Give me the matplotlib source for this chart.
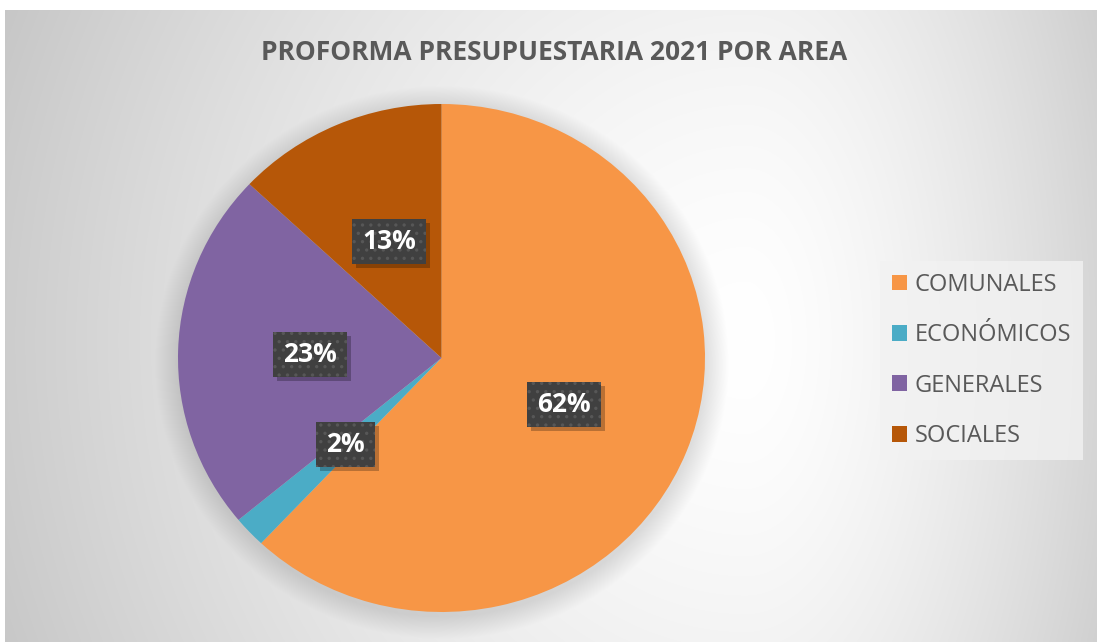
import matplotlib
matplotlib.use('Agg')
import matplotlib.pyplot as plt
import numpy as np
from matplotlib.patches import Rectangle

titulo = 'PROFORMA PRESUPUESTARIA 2021 POR AREA'
categorias = ['COMUNALES', 'ECONÓMICOS', 'GENERALES', 'SOCIALES']
porcentajes = [62, 2, 23, 13]
colores = ['#F79646', '#4BACC6', '#8064A2', '#B65708']

W, H = 1097, 642
fig = plt.figure(figsize=(W / 100, H / 100), dpi=100)
fig.patch.set_facecolor('white')
plt.rcParams['hatch.linewidth'] = 1.2

# fondo con degradado radial (estilo Excel) + sombra suave del pastel
bx0, by0 = 5, 10
bw, bh = W - bx0, H - by0
yy, xx = np.mgrid[0:bh, 0:bw].astype(float)
xx += bx0
yy += by0
cx, cy = 745, 340
dx = np.where(xx < cx, (xx - cx) / 740, (xx - cx) / 400)
dy = (yy - cy) / 800
t = np.sqrt(dx ** 2 + dy ** 2)
gris = 255 - 50 * t ** 1.5
pcx, pcy, prx, pry = 441.5, 358, 263.5, 254
d = np.sqrt(((xx - pcx) / prx) ** 2 + ((yy - pcy - 4) / pry) ** 2)
sombra = np.clip((1.09 - d) / 0.09, 0, 1)
gris = gris * (1 - 0.12 * sombra)
img = np.clip(np.dstack([gris] * 3) / 255, 0, 1)

bg = fig.add_axes([bx0 / W, 0, bw / W, bh / H])
bg.imshow(img, aspect='auto', interpolation='bilinear')
bg.axis('off')

# pastel
ax = fig.add_axes([178 / W, (H - 612) / H, 527 / W, 508 / H])
wedges, texts, autotexts = ax.pie(porcentajes, colors=colores, startangle=90,
                                  counterclock=False, autopct='%1.0f%%',
                                  pctdistance=0.5)
ax.set_aspect('auto')
ax.set_xlim(-1, 1)
ax.set_ylim(-1, 1)
ax.axis('off')

for at in autotexts:
    at.set(family='Open Sans', fontweight='bold', fontsize=19, color='white',
           zorder=5)

leg = ax.legend(wedges, categorias, loc='upper left',
                bbox_to_anchor=(880 / W, 1 - 261 / H),
                bbox_transform=fig.transFigure, frameon=True, fancybox=False,
                prop=dict(family='Open Sans', size=17), labelcolor='#595959',
                handlelength=0.66, handleheight=0.66, handletextpad=0.3,
                labelspacing=1.12, borderpad=0.5, borderaxespad=0)
leg.get_frame().set_facecolor((0.95, 0.95, 0.95, 0.6))
leg.get_frame().set_edgecolor('none')

fig.text(554 / W, 1 - 52 / H, titulo, ha='center', va='center', fontsize=19,
         fontweight='bold', family='Open Sans', color='#595959')

# cajas oscuras de las etiquetas, con sombra
fig.canvas.draw()
r = fig.canvas.get_renderer()
for at in autotexts:
    ext = at.get_window_extent(r)
    bw_, bh_ = ext.width + 20, 45
    x0 = ext.x0 + ext.width / 2 - bw_ / 2
    y0 = ext.y0 + ext.height / 2 - bh_ / 2
    ax.add_patch(Rectangle((x0 + 4, y0 - 4), bw_, bh_, transform=None,
                           facecolor=(0, 0, 0, 0.25), linewidth=0, zorder=3))
    ax.add_patch(Rectangle((x0, y0), bw_, bh_, transform=None,
                           facecolor='#404040', edgecolor='#575757',
                           hatch='..', linewidth=0, zorder=4))

fig.savefig('out.png', dpi=100)
